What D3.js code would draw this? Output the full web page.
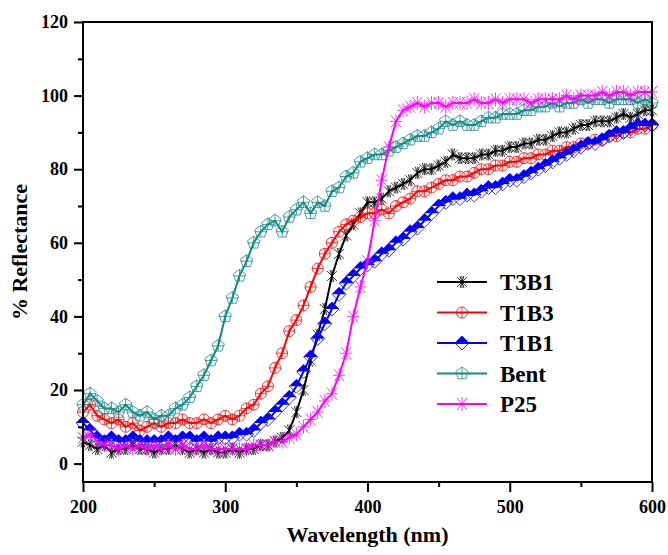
<!DOCTYPE html>
<html>
<head>
<meta charset="utf-8">
<title>Reflectance</title>
<style>
  body { margin: 0; background: #fff; }
  .axis path, .axis line { stroke: #000; stroke-width: 2; }
  .line { fill: none; stroke-width: 2; }
</style>
<script src="https://d3js.org/d3.v7.min.js"></script>
</head>
<body>
<div id="chart"></div>
<script>
// wavelength grid (nm)
var wavelengths = d3.range(200, 601, 5);

var seriesNames = ["T3B1", "T1B3", "T1B1", "Bent", "P25"];
var seriesColors = ["#000000", "#ff0000", "#0000ff", "#138a86", "#ff00ff"];

var t3b1 = [6,5,4,5,3,4,4,5,4,4,3,4,4,5,4,3,4,3,4,3,3,4,3,4,4,5,5,6,7,9,
  14,20,28,35,42,51,57,62,65,68,71,71,72,74,75,76,77,79,80,80,81,82,84,83,83,83,
  84,84,85,85,86,86,87,87,88,88,89,90,90,91,92,92,93,93,93,94,95,94,95,96,96];
var t1b3 = [14,16,13,12,11,12,10,11,9,10,11,10,11,11,12,11,11,12,11,12,13,12,13,15,16,19,
  21,26,30,36,39,43,48,53,57,60,63,65,66,67,68,68,69,68,70,71,72,74,74,75,76,77,77,
  78,78,79,80,80,81,81,82,82,83,83,84,84,85,85,86,86,87,87,88,88,89,89,90,90,91,91,92];
var t1b1 = [11,9,7,6,7,6,6,7,6,6,6,6,7,6,7,7,6,7,6,7,7,7,8,8,9,11,12,14,16,18,
  21,25,29,34,38,42,46,49,51,53,54,55,57,58,60,61,63,64,66,68,70,71,72,72,73,73,
  74,75,75,76,77,77,78,79,80,81,82,83,84,85,86,87,87,88,89,90,90,91,92,92,92];
var bent = [16,19,17,15,15,14,16,14,13,14,12,13,13,15,16,18,21,24,28,32,40,45,51,55,60,63,
  65,66,63,67,69,71,68,71,70,74,75,78,79,82,83,84,84,85,86,87,88,89,89,90,91,93,92,
  93,92,92,93,94,94,95,95,95,96,96,97,97,98,97,98,98,99,98,99,99,98,99,99,99,98,99,98];
var p25 = [7,8,6,5,5,4,5,4,5,4,5,4,5,4,5,4,4,5,4,4,4,4,4,4,5,5,5,6,6,7,
  8,10,12,14,17,19,24,30,40,48,55,66,77,86,93,96,97,98,97,98,98,97,98,98,98,99,
  98,98,99,98,99,99,99,98,99,99,99,99,100,99,100,100,100,101,100,101,101,100,101,101,101];
var allValues = [t3b1, t1b3, t1b1, bent, p25];

var xTicks = [200, 300, 400, 500, 600];
var yTicks = [0, 20, 40, 60, 80, 100, 120];

var W = 668, H = 555;
var mLeft = 83, mRight = 652, mTop = 22, mBottom = 482;
var serif = "'Liberation Serif', 'DejaVu Serif', serif";

var x = d3.scaleLinear().domain([200, 600]).range([mLeft, mRight]);
var y = d3.scaleLinear().domain([-5, 120]).range([mBottom, mTop]);

var svg = d3.select("#chart").append("svg")
  .attr("width", W)
  .attr("height", H);

// marker shapes
function markerPath(i) {
  if (i == 0) return "M-5,-5L5,5M-5,5L5,-5M0,-6L0,6M-2,-6L2,6M2,-6L-2,6";
  if (i == 1) return "M5.5,0A5.5,5.5 0 1,1 -5.5,0A5.5,5.5 0 1,1 5.5,0M-5.5,0L5.5,0M0,-5.5L0,5.5";
  if (i == 2) return "M0,-7L7,0L0,7L-7,0Z";
  if (i == 3) {
    var p = d3.range(5).map(function(k) {
      var a = -Math.PI / 2 + k * 2 * Math.PI / 5;
      return [6.5 * Math.cos(a), 6.5 * Math.sin(a)];
    });
    return "M" + p.join("L") + "ZM-6,0L6,0M0,-6.5L0,5";
  }
  return "M-5,-6L5,6M-5,6L5,-6M0,-7L0,7M-6,0L6,0";
}

function drawMarker(g, i, cx, cy) {
  var m = g.append("g").attr("transform", "translate(" + cx + "," + cy + ")");
  m.append("path")
    .attr("d", markerPath(i))
    .attr("fill", "none")
    .attr("stroke", seriesColors[i])
    .attr("stroke-width", 0.8);
  if (i == 2) {
    m.append("path")
      .attr("d", "M-7,0L0,-7L7,0Z")
      .attr("fill", seriesColors[i]);
  }
}

var line = d3.line()
  .x(function(d) { return x(d.w); })
  .y(function(d) { return y(d.v); });

allValues.forEach(function(vals, i) {
  var pts = wavelengths.map(function(w, k) { return { w: w, v: vals[k] }; });
  var g = svg.append("g");
  g.append("path")
    .datum(pts)
    .attr("class", "line")
    .attr("stroke", seriesColors[i])
    .attr("d", line);
  pts.forEach(function(d) { drawMarker(g, i, x(d.w), y(d.v)); });
});

// frame
svg.append("rect")
  .attr("x", mLeft).attr("y", mTop)
  .attr("width", mRight - mLeft).attr("height", mBottom - mTop)
  .attr("fill", "none").attr("stroke", "#000").attr("stroke-width", 2);

// axes
var xAxis = svg.append("g")
  .attr("class", "axis")
  .attr("transform", "translate(0," + mBottom + ")")
  .call(d3.axisBottom(x).tickValues(xTicks).tickSize(10).tickPadding(8).tickFormat(d3.format("d")));
xAxis.select(".domain").remove();
svg.append("g")
  .attr("class", "axis")
  .attr("transform", "translate(0," + mBottom + ")")
  .call(d3.axisBottom(x).tickValues([250, 350, 450, 550]).tickSize(5).tickFormat(""))
  .select(".domain").remove();

var yAxis = svg.append("g")
  .attr("class", "axis")
  .attr("transform", "translate(" + mLeft + ",0)")
  .call(d3.axisLeft(y).tickValues(yTicks).tickSize(9).tickPadding(6));
yAxis.select(".domain").remove();
svg.append("g")
  .attr("class", "axis")
  .attr("transform", "translate(" + mLeft + ",0)")
  .call(d3.axisLeft(y).tickValues([10, 30, 50, 70, 90, 110]).tickSize(5).tickFormat(""))
  .select(".domain").remove();

svg.selectAll(".axis text")
  .style("font-size", "18px");

// axis titles
svg.append("text")
  .attr("x", (mLeft + mRight) / 2)
  .attr("y", 542)
  .attr("text-anchor", "middle")
  .style("font-size", "22px")
  .text("Wavelength (nm)");

svg.append("text")
  .attr("transform", "translate(27," + ((mTop + mBottom) / 2) + ") rotate(-90)")
  .attr("text-anchor", "middle")
  .style("font-size", "22px")
  .text("% Reflectance");

// legend
var legend = svg.append("g");
seriesNames.forEach(function(name, i) {
  var ly = 282 + i * 30.5;
  legend.append("line")
    .attr("x1", 437).attr("x2", 487)
    .attr("y1", ly).attr("y2", ly)
    .attr("stroke", seriesColors[i])
    .attr("stroke-width", 2);
  drawMarker(legend, i, 462, ly);
  legend.append("text")
    .attr("x", 500)
    .attr("y", ly + 8)
    .style("font-size", "23px")
    .text(name);
});

// same bold serif face on every label
svg.selectAll("text")
  .style("font-family", serif)
  .style("font-weight", "bold");
</script>
</body>
</html>
